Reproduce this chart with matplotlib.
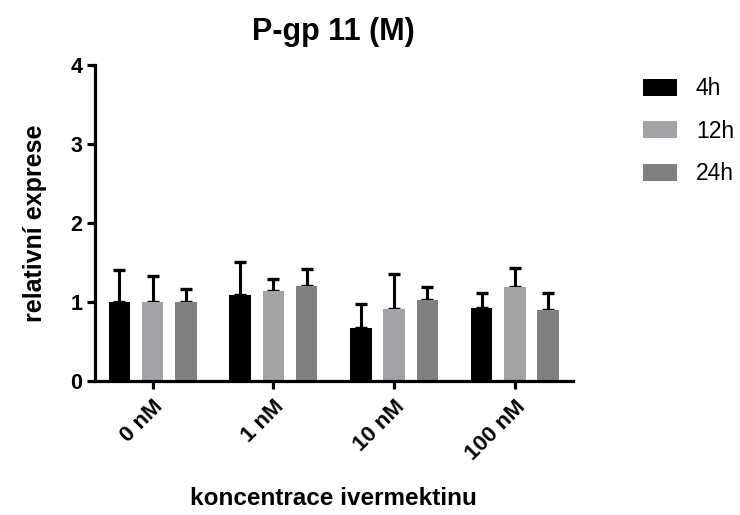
import matplotlib.pyplot as plt
import numpy as np

plt.rcParams['font.family'] = ['Liberation Sans', 'DejaVu Sans']

categories = ['0 nM', '1 nM', '10 nM', '100 nM']
series = ['4h', '12h', '24h']
means_4h = [1.00, 1.09, 0.67, 0.93]
means_12h = [1.00, 1.14, 0.91, 1.19]
means_24h = [1.00, 1.20, 1.03, 0.90]
err_4h = [0.40, 0.42, 0.30, 0.19]
err_12h = [0.33, 0.15, 0.45, 0.24]
err_24h = [0.17, 0.22, 0.16, 0.22]
colors = ['#000000', '#a3a3a5', '#808080']

fig = plt.figure(figsize=(7.4, 5.15), dpi=100)
ax = fig.add_axes([0.128, 0.260, 0.646, 0.614])

x = np.arange(len(categories))
width = 0.178
pitch = 0.275
for i, (m, e, lab) in enumerate(zip([means_4h, means_12h, means_24h],
                                    [err_4h, err_12h, err_24h], series)):
    pos = x + (i - 1) * pitch
    ax.bar(pos, m, width, color=colors[i], label=lab, zorder=2)
    ax.errorbar(pos, m, yerr=[np.zeros(len(e)), e], fmt='none',
                ecolor='black', elinewidth=2.2, capsize=4, capthick=2.4,
                zorder=1)

ax.set_xlim(-0.48, 3.48)
ax.set_ylim(0, 4)
ax.set_yticks([0, 1, 2, 3, 4])
ax.set_xticks(x)
ax.set_xticklabels(categories, rotation=45, ha='right',
                   rotation_mode='anchor', fontweight='bold', fontsize=16)
ax.tick_params(axis='y', labelsize=15.5, pad=3)
for t in ax.get_yticklabels():
    t.set_fontweight('bold')

for s in ['top', 'right']:
    ax.spines[s].set_visible(False)
for s in ['left', 'bottom']:
    ax.spines[s].set_linewidth(2.3)
ax.tick_params(axis='both', width=2.3, length=6, direction='out')
ax.tick_params(axis='x', pad=5)

ax.set_title('P-gp 11 (M)', fontsize=22, fontweight='bold', pad=18)
ax.set_ylabel('relativní exprese', fontsize=18, fontweight='bold', labelpad=17)
ax.set_xlabel('koncentrace ivermektinu', fontsize=17.5, fontweight='bold',
              labelpad=16)

ax.legend(loc='upper left', bbox_to_anchor=(1.128, 0.99), frameon=False,
          fontsize=16.5, handlelength=1.5, handleheight=0.75,
          labelspacing=0.85, handletextpad=0.8, borderaxespad=0)

fig.savefig('out.png', dpi=100)
